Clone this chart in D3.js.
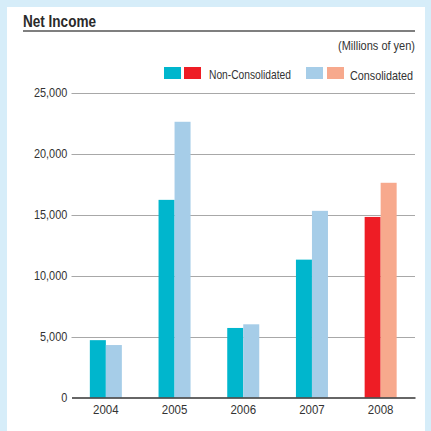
<!DOCTYPE html>
<html><head><meta charset="utf-8">
<script src="https://cdn.jsdelivr.net/npm/d3@7"></script>
<style>
html,body{margin:0;padding:0;background:#d6edf9;}
svg{display:block;}
text{font-family:"Liberation Sans",Arial,sans-serif;fill:#333;}
</style></head>
<body>
<svg id="chart" width="431" height="431"></svg>
<script>
const years = ["2004","2005","2006","2007","2008"];
const nonConsolidated = [4700, 16200, 5700, 11300, 14800];
const consolidated = [4300, 22600, 6000, 15300, 17600];
const yTicks = [0, 5000, 10000, 15000, 20000, 25000];
const legendLabels = ["Non-Consolidated", "Consolidated"];

const colNC = "#00b6cd", colNC08 = "#ee1d25", colC = "#a6cde8", colC08 = "#f7a98d";

const svg = d3.select("#chart");
svg.append("rect").attr("x",7).attr("y",7).attr("width",418).attr("height",424).attr("fill","#fff");

// title
svg.append("text").attr("x",23).attr("y",26.5).attr("font-size",16.5).attr("font-weight","bold")
  .attr("textLength",73).attr("lengthAdjust","spacingAndGlyphs")
  .style("fill","#2a2a2a").text("Net Income");
svg.append("line").attr("x1",23).attr("x2",415).attr("y1",31).attr("y2",31)
  .attr("stroke","#555").attr("stroke-width",1.3);
svg.append("text").attr("x",415).attr("y",50).attr("text-anchor","end").attr("font-size",12.5)
  .attr("textLength",77).attr("lengthAdjust","spacingAndGlyphs")
  .text("(Millions of yen)");

const x0 = 71.5, x1 = 415;
const x = d3.scaleBand().domain(years).range([x0, x1]).paddingInner(0.534).paddingOuter(0.267);
const y = d3.scaleLinear().domain([0, 25000]).range([397.5, 92.5]);

// y axis + grid
const yAxis = d3.axisLeft(y).tickValues(yTicks).tickSize(0).tickPadding(5).tickFormat(d3.format(","));
const gy = svg.append("g").attr("transform",`translate(${x0},0)`).call(yAxis);
gy.select(".domain").remove();
gy.selectAll("text").attr("font-size",13).style("fill","#333")
  .attr("font-family",'"Liberation Sans",Arial,sans-serif')
  .attr("transform","scale(0.84,1)");
svg.append("g").selectAll("line").data(yTicks.filter(d=>d>0)).join("line")
  .attr("x1",x0).attr("x2",x1).attr("y1",d=>Math.round(y(d))+0.5).attr("y2",d=>Math.round(y(d))+0.5)
  .attr("stroke","#a8a8a8").attr("stroke-width",1);

// bars
const bw = x.bandwidth()/2;
const data = years.map((yr,i)=>({yr, nc:nonConsolidated[i], c:consolidated[i], last:i===years.length-1}));
const g = svg.append("g");
g.selectAll(".nc").data(data).join("rect").attr("class","nc")
  .attr("x",d=>x(d.yr)).attr("width",bw).attr("y",d=>y(d.nc)).attr("height",d=>y(0)-y(d.nc))
  .attr("fill",d=>d.last?colNC08:colNC);
g.selectAll(".c").data(data).join("rect").attr("class","c")
  .attr("x",d=>x(d.yr)+bw).attr("width",bw).attr("y",d=>y(d.c)).attr("height",d=>y(0)-y(d.c))
  .attr("fill",d=>d.last?colC08:colC);

// x axis
const xAxis = d3.axisBottom(x).tickSize(0).tickPadding(8);
const gx = svg.append("g").attr("transform",`translate(0,${y(0)})`).call(xAxis);
gx.select(".domain").attr("stroke","#333").attr("stroke-width",1.5);
gx.selectAll("text").attr("font-size",12.5).style("fill","#333")
  .attr("font-family",'"Liberation Sans",Arial,sans-serif')
  .attr("transform","scale(0.92,1)");

// legend
const leg = svg.append("g");
const sw = [[164,colNC],[184,colNC08],[306,colC],[327,colC08]];
leg.selectAll("rect").data(sw).join("rect").attr("x",d=>d[0]).attr("y",67).attr("width",17).attr("height",12).attr("fill",d=>d[1]);
leg.append("text").attr("x",209).attr("y",79).attr("font-size",13)
  .attr("textLength",82).attr("lengthAdjust","spacingAndGlyphs").text(legendLabels[0]);
leg.append("text").attr("x",350).attr("y",79.5).attr("font-size",13)
  .attr("textLength",63).attr("lengthAdjust","spacingAndGlyphs").text(legendLabels[1]);
</script>
</body></html>
